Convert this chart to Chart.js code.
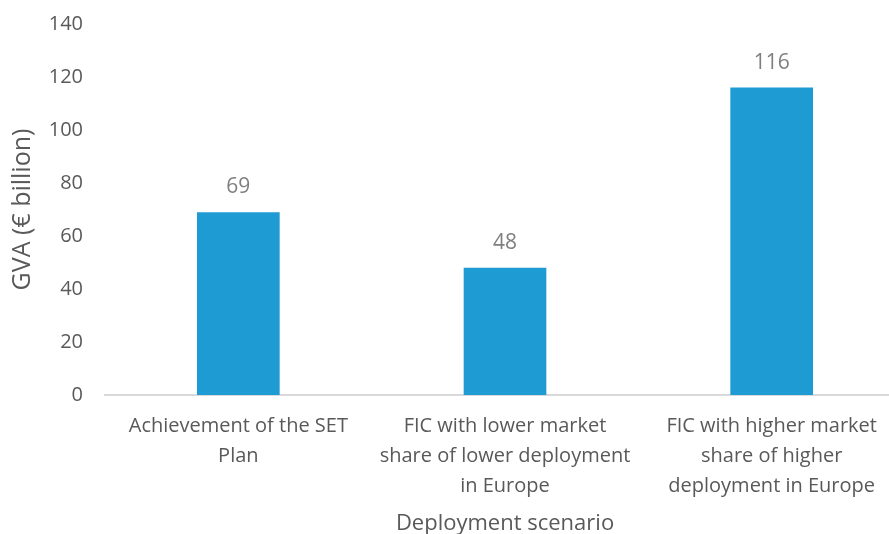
<!DOCTYPE html>
<html>
<head>
<meta charset="utf-8">
<script src="https://cdn.jsdelivr.net/npm/chart.js@4"></script>
<style>
html,body{margin:0;padding:0;background:#fff;overflow:hidden;}
#wrap{width:905px;height:544px;margin-top:-10px;}
</style>
</head>
<body>
<div id="wrap"><canvas id="c" width="905" height="544"></canvas></div>
<script>
const categories = [
  ["Achievement of the SET", "Plan"],
  ["FIC with lower market", "share of lower deployment", "in Europe"],
  ["FIC with higher market", "share of higher", "deployment in Europe"]
];
const gvaValues = [69, 48, 116];
const yTitle = "GVA (€ billion)";
const xTitle = "Deployment scenario";

const FONT = "'Open Sans', 'Liberation Sans', sans-serif";

const dataLabels = {
  id: 'dataLabels',
  afterDatasetsDraw(chart) {
    const ctx = chart.ctx;
    ctx.save();
    ctx.font = "21px " + FONT;
    ctx.fillStyle = "#7f7f7f";
    ctx.textAlign = "center";
    ctx.textBaseline = "middle";
    chart.getDatasetMeta(0).data.forEach((el, i) => {
      ctx.fillText(String(chart.data.datasets[0].data[i]), el.x, el.y - 25);
    });
    ctx.restore();
  }
};

new Chart(document.getElementById('c'), {
  type: 'bar',
  data: {
    labels: categories,
    datasets: [{
      data: gvaValues,
      backgroundColor: '#1f9bd3',
      borderWidth: 0,
      categoryPercentage: 1,
      barPercentage: 0.31
    }]
  },
  options: {
    responsive: false,
    animation: false,
    layout: { padding: { top: 0, right: 0, left: 0, bottom: 0 } },
    plugins: { legend: { display: false }, tooltip: { enabled: false } },
    scales: {
      y: {
        min: 0, max: 140,
        ticks: { stepSize: 20, color: '#595959', font: { family: FONT, size: 20 }, padding: 22 },
        grid: { display: false, drawTicks: false },
        border: { display: false },
        title: { display: true, text: yTitle, color: '#595959', font: { family: FONT, size: 25 }, padding: { top: 8, bottom: 0 } },
        afterFit(scale) { scale.width = 105; }
      },
      x: {
        ticks: { color: '#595959', font: { family: FONT, size: 20, lineHeight: 1.5 }, padding: 16, maxRotation: 0, autoSkip: false },
        grid: { display: false, drawTicks: false },
        border: { display: true, color: '#d9d9d9', width: 2 },
        title: { display: true, text: xTitle, color: '#595959', font: { family: FONT, size: 22 }, padding: { top: 0, bottom: -3 } },
        afterFit(scale) { scale.height = 139; }
      }
    }
  },
  plugins: [dataLabels]
});
</script>
</body>
</html>
